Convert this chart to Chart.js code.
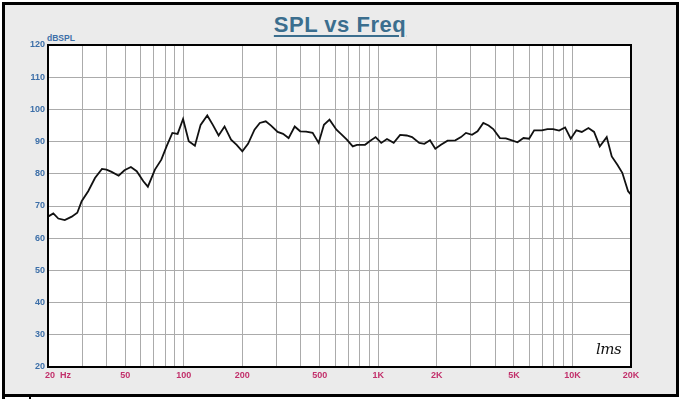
<!DOCTYPE html>
<html>
<head>
<meta charset="utf-8">
<script src="https://cdn.jsdelivr.net/npm/chart.js@4/dist/chart.umd.min.js"></script>
<style>
  html, body { margin: 0; padding: 0; background: #ffffff; }
  #wrap { position: relative; width: 680px; height: 399px; overflow: hidden; }
  #frame { position: absolute; left: 2px; top: 2px; width: 671px; height: 389px;
           border: 3px solid #000; background: #ebebeb; }
  #under { position: absolute; left: 2px; top: 397px; width: 674px; height: 4px;
           border-left: 3px solid #000; background: #fff; }
  #under2 { position: absolute; left: 29px; top: 397px; width: 2px; height: 4px; background: #000; }
  #title { position: absolute; left: 0; top: 14px; width: 680px; text-align: center;
           font: bold 22px "Liberation Sans", Arial, sans-serif; line-height: 22px;
           letter-spacing: 0.5px; color: #3b6e8e;
           text-decoration: underline; text-decoration-thickness: 2px; text-underline-offset: 3px; }
  #unit { position: absolute; left: 47px; top: 33px;
          font: bold 8.5px "Liberation Sans", Arial, sans-serif; color: #3d6fa8; }
  #lms { position: absolute; left: 596px; top: 340px;
         font: italic 15px "DejaVu Serif", serif; color: #111; letter-spacing: -0.5px; }
  canvas { position: absolute; left: 0; top: 0; }
</style>
</head>
<body>
<div id="wrap">
  <div id="frame"></div>
  <div id="under"></div>
  <div id="under2"></div>
  <div id="title">SPL vs Freq</div>
  <div id="unit">dBSPL</div>
  <canvas id="c" width="680" height="399"></canvas>
  <div id="lms">lms</div>
</div>
<script>
// ---- data ----
const freqHz = [20, 21.3, 22.6, 24.4, 26.5, 28.3, 29.8, 32.2, 34.9, 37.9, 40.0, 42.5, 46.2, 49.5, 53.4, 57.2, 61.9, 65.3, 71.0, 76.6, 81.5, 87.3, 92.9, 99.1, 106, 114, 122, 132, 141, 151, 162, 175, 187, 200, 214, 231, 246, 264, 282, 304, 324, 346, 372, 397, 426, 460, 494, 526, 562, 610, 643, 690, 740, 778, 856, 904, 970, 1037, 1110, 1202, 1297, 1402, 1494, 1628, 1729, 1848, 1968, 2104, 2276, 2494, 2668, 2830, 3041, 3246, 3475, 3700, 3910, 4230, 4540, 4876, 5212, 5596, 5980, 6350, 6954, 7430, 7946, 8532, 9160, 9796, 10468, 11164, 12078, 12914, 13812, 15000, 15920, 17020, 18040, 19320, 20000];
const splDb = [66.7, 67.7, 66.1, 65.6, 66.7, 67.9, 71.5, 74.6, 78.7, 81.5, 81.3, 80.6, 79.4, 81.1, 82.1, 80.8, 77.7, 76.0, 81.3, 84.4, 88.5, 92.7, 92.4, 97.0, 90.1, 88.7, 95.2, 98.1, 95.2, 91.9, 94.7, 90.6, 89.0, 87.0, 89.3, 93.7, 95.8, 96.3, 94.9, 93.0, 92.4, 91.1, 94.7, 93.2, 93.1, 92.7, 89.6, 95.2, 96.8, 93.7, 92.4, 90.6, 88.5, 89.0, 89.0, 90.1, 91.4, 89.6, 90.8, 89.6, 92.1, 91.9, 91.4, 89.6, 89.3, 90.4, 87.8, 89.0, 90.3, 90.4, 91.4, 92.7, 92.1, 93.2, 95.8, 95.0, 93.9, 91.1, 91.0, 90.4, 89.8, 91.1, 90.9, 93.5, 93.5, 93.9, 93.9, 93.4, 94.4, 90.9, 93.5, 93.0, 94.2, 93.0, 88.5, 91.4, 85.4, 82.8, 80.3, 74.6, 73.5];
const gridFreqs = [20, 30, 40, 50, 60, 70, 80, 90, 100, 200, 300, 400, 500, 600, 700, 800, 900, 1000, 2000, 3000, 4000, 5000, 6000, 7000, 8000, 9000, 10000, 20000];
const xTickLabels = { 20: '20  Hz', 50: '50', 100: '100', 200: '200', 500: '500', 1000: '1K', 2000: '2K', 5000: '5K', 10000: '10K', 20000: '20K' };
const yMin = 20, yMax = 120, yStep = 10;

const framePlugin = {
  id: 'framePlugin',
  beforeDraw(chart) {
    const { ctx, chartArea: a } = chart;
    ctx.save();
    ctx.fillStyle = '#ffffff';
    ctx.fillRect(a.left, a.top, a.right - a.left, a.bottom - a.top);
    ctx.restore();
    // first x label: left aligned ("20 Hz")
    try {
      const sx = chart.scales.x;
      const items = sx.getLabelItems(chart.chartArea);
      if (items && items.length) {
        const it = items[0];
        it.options.textAlign = 'left';
        it.options.translation[0] = sx.getPixelForValue(20) - 3;
      }
    } catch (e) {}
  },
  afterDraw(chart) {
    const { ctx, chartArea: a } = chart;
    ctx.save();
    ctx.strokeStyle = '#000';
    ctx.lineWidth = 2;
    ctx.strokeRect(a.left, a.top, a.right - a.left, a.bottom - a.top);
    ctx.restore();
  }
};

new Chart(document.getElementById('c'), {
  type: 'line',
  data: {
    datasets: [{
      data: freqHz.map((f, i) => ({ x: f, y: splDb[i] })),
      borderColor: '#111111',
      borderWidth: 1.8,
      pointRadius: 0,
      tension: 0,
      fill: false
    }]
  },
  options: {
    responsive: false,
    animation: false,
    devicePixelRatio: 1,
    layout: { padding: { left: 0, top: 45, right: 49, bottom: 0 } },
    plugins: { legend: { display: false }, tooltip: { enabled: false }, title: { display: false } },
    scales: {
      x: {
        type: 'logarithmic',
        min: 20, max: 20000,
        afterBuildTicks: (s) => { s.ticks = gridFreqs.map(v => ({ value: v })); },
        afterFit: (s) => { s.height = 32; },
        grid: { color: '#ababab', lineWidth: 1, drawTicks: false },
        border: { display: false },
        ticks: {
          autoSkip: false, maxRotation: 0, minRotation: 0, padding: 3,
          color: '#c2306b',
          font: { family: '"Liberation Sans", Arial, sans-serif', size: 9, weight: 'bold' },
          callback: (v) => xTickLabels[v] || ''
        }
      },
      y: {
        min: yMin, max: yMax,
        afterFit: (s) => { s.width = 48; },
        grid: { color: '#ababab', lineWidth: 1, drawTicks: false },
        border: { display: false },
        ticks: {
          stepSize: yStep, padding: 3,
          color: '#3d6fa8',
          font: { family: '"Liberation Sans", Arial, sans-serif', size: 9, weight: 'bold' }
        }
      }
    }
  },
  plugins: [framePlugin]
});
</script>
</body>
</html>
